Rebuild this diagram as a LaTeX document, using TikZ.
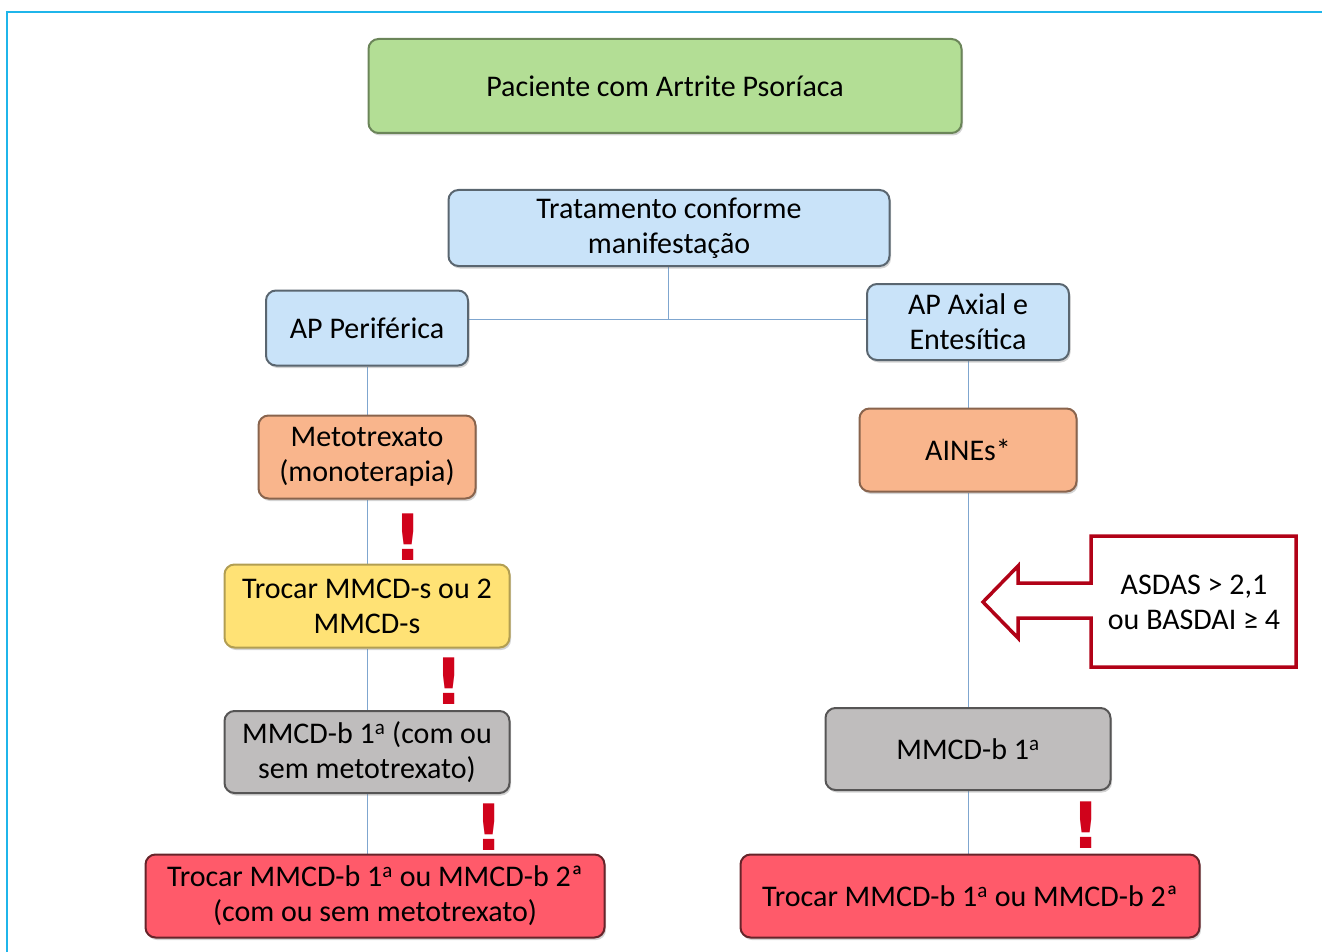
\documentclass[tikz,border=0pt]{standalone}
\usepackage{fontspec}
\setmainfont{Carlito}
\newfontfamily\alertfont{DejaVu Sans}
\usetikzlibrary{positioning,shadows,backgrounds}

\definecolor{verde}{HTML}{B3DE95}
\definecolor{azul}{HTML}{C9E3F9}
\definecolor{laranja}{HTML}{F9B58C}
\definecolor{amarelo}{HTML}{FFE275}
\definecolor{cinza}{HTML}{BFBDBD}
\definecolor{vermelho}{HTML}{FF5A6A}
\definecolor{linha}{HTML}{7FA6CF}
\definecolor{moldura}{HTML}{1FB5EA}
\definecolor{alerta}{HTML}{D0021B}

\tikzset{
  caixa/.style={rectangle, rounded corners=10pt, line width=2pt, align=center,
    inner sep=0pt, font=\fontsize{30}{35}\selectfont,
    drop shadow={opacity=0.35, shadow xshift=1.5pt, shadow yshift=-2.5pt}},
  cverde/.style={caixa, fill=verde, draw=verde!60!black},
  cazul/.style={caixa, fill=azul, draw=azul!45!black},
  claranja/.style={caixa, fill=laranja, draw=laranja!55!black},
  camarelo/.style={caixa, fill=amarelo, draw=amarelo!70!black},
  ccinza/.style={caixa, fill=cinza, draw=cinza!45!black},
  cvermelho/.style={caixa, fill=vermelho, draw=vermelho!40!black},
  conector/.style={draw=linha, line width=1pt},
  exclama/.style={fill=white, text=alerta, inner sep=0pt, minimum width=57pt,
    minimum height=52pt, font=\alertfont\fontsize{64}{64}\bfseries\selectfont}
}

\begin{document}
\begin{tikzpicture}[x=1pt,y=-1pt]
    \useasboundingbox (0,0) rectangle (1322,952);
    \draw[moldura, line width=2pt] (7,952) -- (7,12) -- (1322,12);

    % topo
    \node[cverde, minimum width=593pt, minimum height=94pt] (paciente) at (665,86) {Paciente com Artrite Psoríaca};
    \node[cazul, minimum width=441pt, minimum height=76pt] (tratamento) at (669,228) {Tratamento conforme\\manifestação};

    % ramo periferico
    \node[cazul, minimum width=202pt, minimum height=75pt] (periferica) at (367,328) {AP Periférica};
    \node[claranja, minimum width=217pt, minimum height=83pt] (mtx) at (367,457) {Metotrexato\\(monoterapia)};
    \node[camarelo, minimum width=285pt, minimum height=83pt] (trocas) at (367,606) {Trocar MMCD-s ou 2\\MMCD-s};
    \node[ccinza, minimum width=285pt, minimum height=82pt] (mmcdbl) at (367,752) {MMCD-b 1\textsuperscript{a} (com ou\\sem metotrexato)};
    \node[cvermelho, minimum width=459pt, minimum height=83pt] (trocabl) at (375,896) {Trocar MMCD-b 1\textsuperscript{a} ou MMCD-b 2ª\\(com ou sem metotrexato)};

    % ramo axial
    \node[cazul, minimum width=202pt, minimum height=76pt] (axial) at (968,322) {AP Axial e\\Entesítica};
    \node[claranja, minimum width=217pt, minimum height=83pt] (aines) at (968,450) {AINEs*};
    \node[ccinza, minimum width=285pt, minimum height=82pt] (mmcdbr) at (968,749) {MMCD-b 1\textsuperscript{a}};
    \node[cvermelho, minimum width=459pt, minimum height=83pt] (trocabr) at (970,896) {Trocar MMCD-b 1\textsuperscript{a} ou MMCD-b 2ª};

    % criterio
    \draw[draw=alerta!85!black, line width=3.5pt, fill=white]
      (1091,536) -- (1296,536) -- (1296,667) -- (1091,667) -- (1091,618)
      -- (1018,618) -- (1018,638) -- (983,602) -- (1018,566) -- (1018,583)
      -- (1091,583) -- cycle;
    \node[align=center, font=\fontsize{30}{35}\selectfont] (criterio) at (1194,602) {ASDAS > 2,1\\ou BASDAI ≥ 4};

    % conectores
    \begin{scope}[on background layer]
    \coordinate (juncao) at (668,319);
    \draw[conector] (tratamento.south -| juncao) -- (juncao);
    \draw[conector] (periferica.east |- juncao) -- (axial.west |- juncao);
    \draw[conector] (periferica.south) -- (mtx.north);
    \draw[conector] (mtx.south) -- (trocas.north);
    \draw[conector] (trocas.south) -- (mmcdbl.north);
    \draw[conector] (mmcdbl.south) -- (mmcdbl.south |- trocabl.north);
    \draw[conector] (axial.south) -- (aines.north);
    \draw[conector] (aines.south) -- (mmcdbr.north);
    \draw[conector] (mmcdbr.south) -- (mmcdbr.south |- trocabr.north);
    \end{scope}

    % alertas
    \node[exclama] (alerta1) at (408,537) {!};
    \node[exclama] (alerta2) at (449,681) {!};
    \node[exclama] (alerta3) at (489,827) {!};
    \node[exclama] (alerta4) at (1086,825) {!};
\end{tikzpicture}
\end{document}
